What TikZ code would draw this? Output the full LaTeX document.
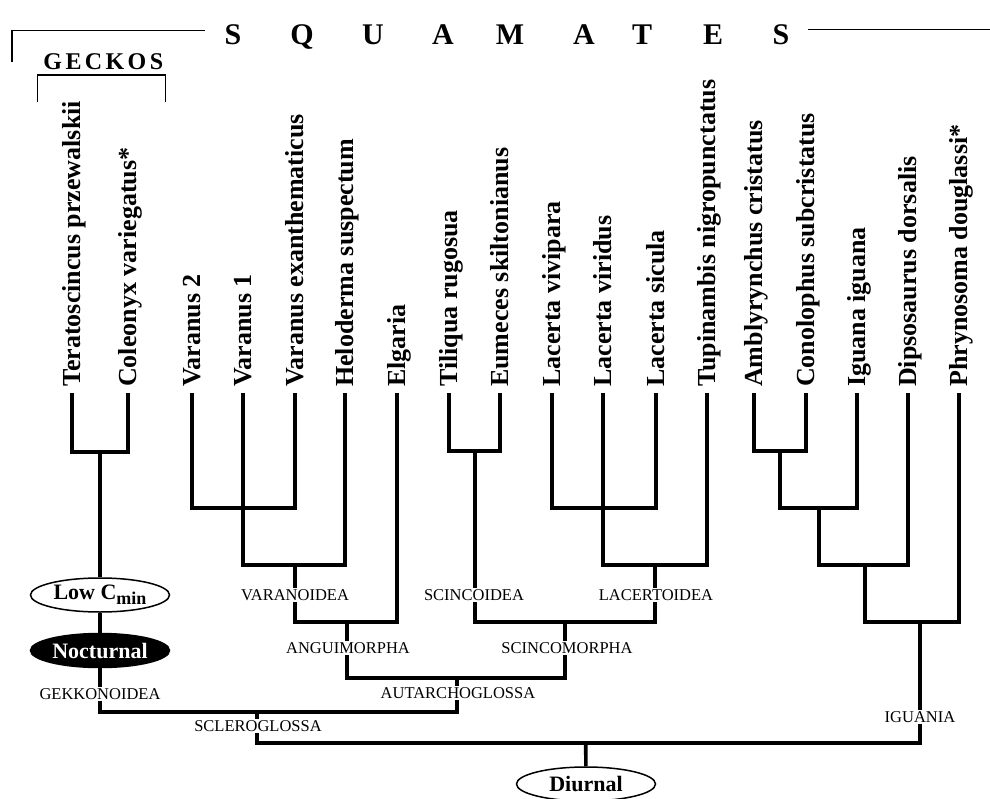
\documentclass[tikz,border=0pt]{standalone}
\usepackage{fontspec}
\setmainfont{Liberation Serif}
\usetikzlibrary{shapes.geometric}
\begin{document}
\begin{tikzpicture}[x=1pt,y=-1pt,
  tree/.style={line width=3.6pt, line join=miter, line cap=butt},
  thinline/.style={line width=1.5pt},
  sp/.style={rotate=90, anchor=base west, inner sep=0pt, font=\bfseries\fontsize{26}{26}\selectfont},
  clade/.style={fill=white, inner sep=1pt, font=\fontsize{16.5}{16.5}\selectfont},
  oval/.style={ellipse, draw, line width=1.5pt, fill=white, minimum width=139pt, minimum height=34pt, inner sep=0pt, font=\bfseries\fontsize{22}{22}\selectfont},
  titlechar/.style={font=\bfseries\fontsize{30}{30}\selectfont, anchor=base, inner sep=0pt}]
\useasboundingbox (0,0) rectangle (990,799);

% title
\foreach \l/\xx [count=\i] in {S/233, Q/302, U/373, A/443, M/510, A/584, T/642, E/713, S/781}
  \node[titlechar] (T\i) at (\xx,45) {\l};
\coordinate (tl1) at (12,61.7);
\coordinate (tl2) at (12,30.7);
\coordinate (tl3) at (205,30.7);
\coordinate (tr1) at (808,29.5);
\coordinate (tr2) at (990,29.5);
\draw[thinline] (tl1) -- (tl2) -- (tl3);
\draw[thinline] (tr1) -- (tr2);

% geckos
\node[anchor=base, inner sep=0pt, font=\bfseries\fontsize{24}{24}\selectfont] (geckos) at (103.3,70)
  {G\hspace{3.4pt}E\hspace{3.4pt}C\hspace{3.4pt}K\hspace{3.4pt}O\hspace{3.4pt}S};
\coordinate (gb1) at (37.3,101.7);
\coordinate (gb2) at (37.3,75);
\coordinate (gb3) at (165.7,75);
\coordinate (gb4) at (165.7,101.7);
\draw[thinline] (gb1) -- (gb2) -- (gb3) -- (gb4);

% tips and species labels
\foreach \xx/\name [count=\i] in {
  71.7/{Teratoscincus przewalskii},
  128/{Coleonyx variegatus*},
  191.7/{Varanus 2},
  243/{Varanus 1},
  295/{Varanus exanthematicus},
  345/{Heloderma suspectum},
  396.7/{Elgaria},
  449/{Tiliqua rugosua},
  500/{Eumeces skiltonianus},
  551.7/{Lacerta vivipara},
  603/{Lacerta viridus},
  656/{Lacerta sicula},
  706.7/{Tupinambis nigropunctatus},
  754/{Amblyrynchus cristatus},
  806/{Conolophus subcristatus},
  857/{Iguana iguana},
  908/{Dipsosaurus dorsalis},
  959/{Phrynosoma douglassi*}}{
  \coordinate (t\i) at (\xx,393);
  \node[sp] (n\i) at (\xx+8.6,387) {\name};
}

% internal nodes
\coordinate (gk) at (100,452);
\coordinate (vA) at (243,508);
\coordinate (vB) at (295,565);
\coordinate (ang) at (347,622);
\coordinate (sc) at (475,451);
\coordinate (lA) at (603,508);
\coordinate (lB) at (655,565);
\coordinate (scm) at (565,622);
\coordinate (aut) at (456.7,678);
\coordinate (scl) at (257,712);
\coordinate (ig1) at (780,451);
\coordinate (ig2) at (819,508);
\coordinate (ig3) at (865,565);
\coordinate (ig4) at (920,622);
\coordinate (root) at (585.7,742.7);

% ellipses
\node[oval] (lowc) at (100,595) {Low C\raisebox{-5pt}{\fontsize{18}{18}\selectfont min}};
\node[oval, fill=black, text=white] (noct) at (100,650.5) {Nocturnal};
\node[oval] (diurnal) at (586,784) {Diurnal};

% tree
\draw[tree] (t1) |- (gk) -| (t2);
\draw[tree] (gk) -- (lowc);
\draw[tree] (lowc) -- (noct);
\draw[tree] (noct) |- (scl) -| (aut);
\draw[tree] (t3) |- (vA) -| (t5);
\draw[tree] (t4) -- (vA);
\draw[tree] (vA) |- (vB) -| (t6);
\draw[tree] (vB) |- (ang) -| (t7);
\draw[tree] (t8) |- (sc) -| (t9);
\draw[tree] (t10) |- (lA) -| (t12);
\draw[tree] (t11) -- (lA);
\draw[tree] (lA) |- (lB) -| (t13);
\draw[tree] (sc) |- (scm) -| (lB);
\draw[tree] (ang) |- (aut) -| (scm);
\draw[tree] (t14) |- (ig1) -| (t15);
\draw[tree] (ig1) |- (ig2) -| (t16);
\draw[tree] (ig2) |- (ig3) -| (t17);
\draw[tree] (ig3) |- (ig4) -| (t18);
\draw[tree] (scl) |- (root) -| (ig4);
\draw[tree] (root) -- (diurnal);

% clade labels
\node[clade] (c1) at (295,595) {VARANOIDEA};
\node[clade] (c2) at (474,595) {SCINCOIDEA};
\node[clade] (c3) at (656,595) {LACERTOIDEA};
\node[clade] (c4) at (348,648) {ANGUIMORPHA};
\node[clade] (c5) at (567,648) {SCINCOMORPHA};
\node[clade] (c6) at (458,693) {AUTARCHOGLOSSA};
\node[clade] (c7) at (100,694) {GEKKONOIDEA};
\node[clade] (c8) at (258,726) {SCLEROGLOSSA};
\node[clade] (c9) at (920,717) {IGUANIA};
\end{tikzpicture}
\end{document}
